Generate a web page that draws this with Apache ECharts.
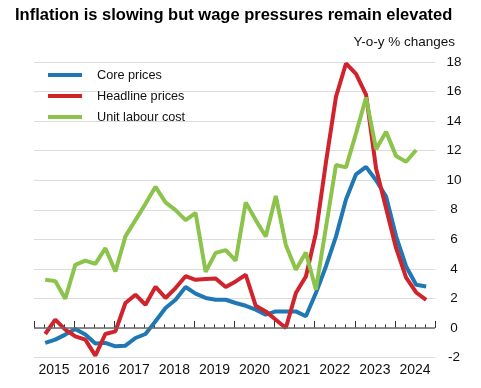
<!DOCTYPE html>
<html>
<head>
<meta charset="utf-8">
<script src="https://cdn.jsdelivr.net/npm/echarts@6/dist/echarts.min.js"></script>
<style>
html,body{margin:0;padding:0;background:#fff;}
#c{width:481px;height:388px;}
</style>
</head>
<body>
<div id="c"></div>
<script>
// Quarterly observations, 2015-Q1 onwards
var firstYear = 2015;
var yearLabels = ['2015','2016','2017','2018','2019','2020','2021','2022','2023','2024'];
var corePrices = [-1.01,-0.79,-0.45,-0.07,-0.45,-1.06,-1.01,-1.24,-1.2,-0.68,
  -0.41,0.45,1.35,1.91,2.77,2.32,2.03,1.91,1.91,1.69,
  1.5,1.24,0.9,1.12,1.12,1.12,0.79,2.36,4.16,6.18,
  8.7,10.4,10.9,10.0,8.9,6.2,4.16,2.92,2.81];
var headlinePrices = [-0.41,0.56,-0.11,-0.57,-0.79,-1.87,-0.41,-0.23,1.69,2.25,
  1.57,2.79,2.03,2.7,3.5,3.26,3.31,3.35,2.77,3.15,
  3.6,1.5,1.12,0.56,0.0,2.36,3.48,6.41,11.2,15.64,
  17.9,17.2,15.8,10.8,8.1,5.4,3.4,2.4,1.9];
var unitLabourCost = [3.26,3.17,1.98,4.27,4.56,4.34,5.4,3.82,6.2,7.3,
  8.4,9.55,8.5,7.97,7.3,7.78,3.8,5.08,5.27,4.56,
  8.5,7.3,6.19,8.93,5.62,3.94,5.1,2.59,6.8,11.03,
  10.87,13.17,15.6,12.1,13.28,11.63,11.25,12.04];
var yTicks = {min:-2, max:18, step:2};

function toPoints(arr){
  return arr.map(function(v,i){ return [firstYear + (i+1)*0.25 + 0.03, v]; });
}

var chart = echarts.init(document.getElementById('c'), null, {renderer:'canvas'});
var font = 'Liberation Sans, Arial, Helvetica, sans-serif';
chart.setOption({
  animation:false,
  textStyle:{fontFamily:font},
  title:[
    {text:'Inflation is slowing but wage pressures remain elevated', left:15, top:7, padding:0,
     textStyle:{fontSize:16.5, fontWeight:'bold', color:'#000', fontFamily:font}},
    {text:'Y-o-y % changes', right:26, top:35, padding:0,
     textStyle:{fontSize:13.5, fontWeight:'normal', color:'#111', fontFamily:font}}
  ],
  legend:{
    data:['Core prices','Headline prices','Unit labour cost'],
    orient:'vertical', left:48, top:68, itemWidth:34, itemHeight:4, itemGap:7,
    icon:'rect', padding:0,
    textStyle:{fontSize:12.7, color:'#111', lineHeight:14, padding:[0,0,0,10], fontFamily:font}
  },
  grid:{left:34, right:46, top:62, bottom:30.5, containLabel:false},
  xAxis:[
    {type:'value', min:2015, max:2025, interval:1, position:'bottom',
     axisLine:{show:false},
     axisTick:{show:true, inside:true, length:7, lineStyle:{color:'#333', width:1}},
     minorTick:{show:true, splitNumber:4, length:3.5, lineStyle:{color:'#333', width:1}},
     axisLabel:{show:false}, splitLine:{show:false}},
    {type:'category', data:yearLabels, position:'bottom', boundaryGap:true,
     axisLine:{show:false}, axisTick:{show:false}, splitLine:{show:false},
     axisLabel:{interval:0, fontSize:14, color:'#111', margin:6, fontFamily:font}}
  ],
  yAxis:{type:'value', position:'right', min:yTicks.min, max:yTicks.max, interval:yTicks.step,
    axisLine:{show:false}, axisTick:{show:false},
    splitLine:{lineStyle:{color:'#dcdcdc', width:1}},
    axisLabel:{align:'center', margin:19, fontSize:13.5, color:'#111', fontFamily:font}},
  series:[
    {name:'zero', type:'line', data:[], xAxisIndex:0, z:1, silent:true,
     markLine:{silent:true, symbol:'none', label:{show:false},
       lineStyle:{color:'#6a6a6a', width:1.5, type:'solid'}, data:[{yAxis:0}]}},
    {name:'Core prices', type:'line', xAxisIndex:0, data:toPoints(corePrices), symbol:'none',
     lineStyle:{color:'#1f77b4', width:4}, itemStyle:{color:'#1f77b4'}, z:3},
    {name:'Headline prices', type:'line', xAxisIndex:0, data:toPoints(headlinePrices), symbol:'none',
     lineStyle:{color:'#d0232c', width:4}, itemStyle:{color:'#d0232c'}, z:4},
    {name:'Unit labour cost', type:'line', xAxisIndex:0, data:toPoints(unitLabourCost), symbol:'none',
     lineStyle:{color:'#8cc34a', width:4}, itemStyle:{color:'#8cc34a'}, z:5}
  ]
});
</script>
</body>
</html>
